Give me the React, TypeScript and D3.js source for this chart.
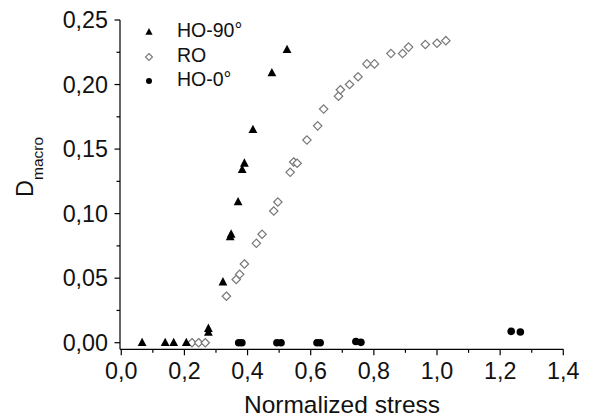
import React from "react";
import * as d3 from "d3";

const ho90X = [0.066, 0.139, 0.166, 0.206, 0.276, 0.276, 0.322, 0.345, 0.348, 0.370, 0.383, 0.390, 0.417, 0.477, 0.525];
const ho90Y = [0.0, 0.0, 0.0, 0.0, 0.011, 0.008, 0.047, 0.082, 0.084, 0.109, 0.134, 0.139, 0.165, 0.209, 0.227];

const roX = [0.224, 0.245, 0.266, 0.333, 0.364, 0.375, 0.390, 0.428, 0.446, 0.483, 0.496, 0.535, 0.546, 0.557, 0.588, 0.622, 0.641, 0.688, 0.694, 0.723, 0.750, 0.778, 0.802, 0.854, 0.891, 0.910, 0.963, 1.000, 1.028];
const roY = [0.0, 0.0, 0.0, 0.036, 0.049, 0.053, 0.061, 0.077, 0.084, 0.102, 0.109, 0.132, 0.140, 0.139, 0.157, 0.168, 0.181, 0.191, 0.196, 0.200, 0.206, 0.216, 0.216, 0.224, 0.224, 0.229, 0.231, 0.232, 0.234];

const ho0X = [0.372, 0.382, 0.493, 0.506, 0.620, 0.630, 0.743, 0.759, 1.235, 1.264];
const ho0Y = [0.0, 0.0, 0.0, 0.0, 0.0, 0.0, 0.001, 0.0003, 0.0088, 0.0083];

const xTicks = [0, 0.2, 0.4, 0.6, 0.8, 1.0, 1.2, 1.4];
const yTicks = [0, 0.05, 0.1, 0.15, 0.2, 0.25];
const legendLabels = ["HO-90°", "RO", "HO-0°"];

const fmtX = (v: number) => v.toFixed(1).replace(".", ",");
const fmtY = (v: number) => v.toFixed(2).replace(".", ",");

export default function App() {
  const W = 607, H = 418;
  const x = d3.scaleLinear().domain([-0.004, 1.4]).range([120, 563.3]);
  const y = d3.scaleLinear().domain([-0.0051, 0.25]).range([349.3, 20]);
  const x0 = x.range()[0], y0 = y.range()[0];
  const font = "'Liberation Sans', Arial, sans-serif";

  const tri = (cx: number, cy: number, s: number) =>
    `M${cx},${cy - s * 0.62}L${cx + s * 0.55},${cy + s * 0.42}L${cx - s * 0.55},${cy + s * 0.42}Z`;
  const dia = (cx: number, cy: number, s: number) =>
    `M${cx},${cy - s}L${cx + s},${cy}L${cx},${cy + s}L${cx - s},${cy}Z`;

  const xMinor = d3.range(0, 1.41, 0.1);
  const yMinor = d3.range(0, 0.251, 0.025);

  return (
    <svg width={W} height={H} style={{ position: "absolute", left: 0, top: 0 }} fontFamily={font}>
      <rect width={W} height={H} fill="#fff" />
      {/* axes */}
      <line x1={x0} x2={x0} y1={y.range()[1]} y2={y0} stroke="#000" strokeWidth={1.2} />
      <line x1={x0} x2={x.range()[1]} y1={y0} y2={y0} stroke="#000" strokeWidth={1.2} />
      {xMinor.map((v, i) => {
        const major = i % 2 === 0;
        return <line key={"xt" + i} x1={x(v)} x2={x(v)} y1={y0} y2={y0 + (major ? 6 : 3.5)} stroke="#000" strokeWidth={1.2} />;
      })}
      {yMinor.map((v, i) => {
        const major = i % 2 === 0;
        return <line key={"yt" + i} x1={x0} x2={x0 - (major ? 5.5 : 3.5)} y1={y(v)} y2={y(v)} stroke="#000" strokeWidth={1.2} />;
      })}
      {xTicks.map((v) => (
        <text key={"xl" + v} x={x(v)} y={379} textAnchor="middle" fontSize={23.3} fill="#111">{fmtX(v)}</text>
      ))}
      {yTicks.map((v) => (
        <text key={"yl" + v} x={108} y={y(v) + 8.3} textAnchor="end" fontSize={23.3} fill="#111">{fmtY(v)}</text>
      ))}
      <text x={342} y={413} textAnchor="middle" fontSize={24.5} fill="#111">Normalized stress</text>
      <text transform="translate(33,197) rotate(-90)" fontSize={23.5} fill="#111">
        D<tspan fontSize={15.5} dy={10}>macro</tspan>
      </text>

      {/* data */}
      {roX.map((v, i) => (
        <path key={"ro" + i} d={dia(x(v), y(roY[i]), 4.2)} fill="#fff" stroke="#777" strokeWidth={1.2} />
      ))}
      {ho90X.map((v, i) => (
        <path key={"h9" + i} d={tri(x(v), y(ho90Y[i]), 8)} fill="#000" />
      ))}
      {ho0X.map((v, i) => (
        <circle key={"h0" + i} cx={x(v)} cy={y(ho0Y[i])} r={3.8} fill="#000" />
      ))}

      {/* legend */}
      <path d={tri(149, 32, 6.5)} fill="#000" />
      <path d={dia(149, 57, 3.5)} fill="#fff" stroke="#777" strokeWidth={1.1} />
      <circle cx={149} cy={81} r={3} fill="#000" />
      {legendLabels.map((l, i) => (
        <text key={l} x={177} y={37.3 + i * 24.4} fontSize={19.5} fill="#111">{l}</text>
      ))}
    </svg>
  );
}
